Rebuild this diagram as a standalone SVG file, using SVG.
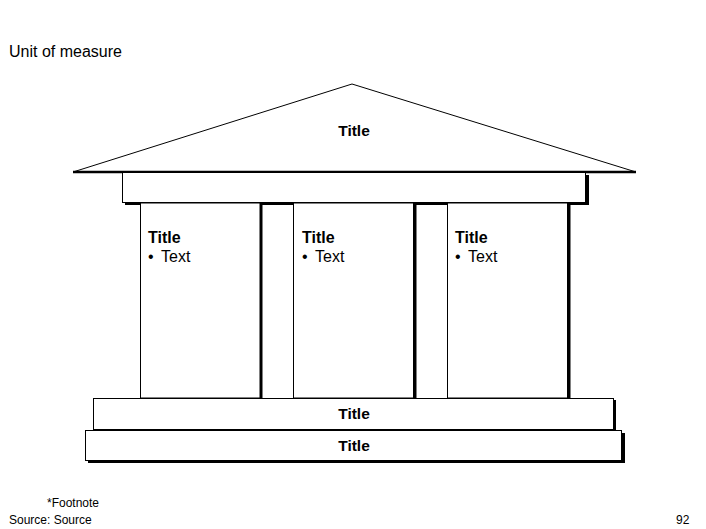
<svg xmlns="http://www.w3.org/2000/svg" width="706" height="529" viewBox="0 0 706 529">
<style>
.t{font-family:"Liberation Sans",Arial,sans-serif;fill:#000}
.b{font-weight:bold;font-size:15.5px;text-anchor:middle}
.ct{font-weight:bold;font-size:16px}
.tx{font-size:16px}
.box{fill:#fff;stroke:#000;stroke-width:1}
.sh{fill:#000}
</style>
<rect width="706" height="529" fill="#fff"/>
<text class="t" x="9" y="57" font-size="16">Unit of measure</text>
<g id="roof">
<polygon points="73,172 352,84 636,172" class="box"/>
<line x1="73" y1="172" x2="636" y2="172" stroke="#000" stroke-width="2.5"/>
<text class="t b" x="354" y="136">Title</text>
</g>
<g id="entablature">
<rect x="125" y="175" width="464" height="30" class="sh"/>
<rect x="122.5" y="172.5" width="463" height="30" class="box"/>
</g>
<g id="column1">
<rect x="140.5" y="203" width="120" height="195" class="box"/>
<line x1="261" y1="203" x2="261" y2="398" stroke="#000" stroke-width="3"/>
<text class="t ct" x="148" y="243">Title</text>
<text class="t tx" y="262"><tspan x="148">•</tspan><tspan x="161">Text</tspan></text>
</g>
<g id="column2">
<rect x="293.5" y="203" width="120" height="195" class="box"/>
<line x1="415" y1="203" x2="415" y2="398" stroke="#000" stroke-width="3"/>
<text class="t ct" x="302" y="243">Title</text>
<text class="t tx" y="262"><tspan x="302">•</tspan><tspan x="315">Text</tspan></text>
</g>
<g id="column3">
<rect x="447.5" y="203" width="120" height="195" class="box"/>
<line x1="569" y1="203" x2="569" y2="398" stroke="#000" stroke-width="3"/>
<text class="t ct" x="455" y="243">Title</text>
<text class="t tx" y="262"><tspan x="455">•</tspan><tspan x="468">Text</tspan></text>
</g>
<g id="step1">
<rect x="95" y="400" width="521" height="31" class="sh"/>
<rect x="93.5" y="398.5" width="520" height="31" class="box"/>
<text class="t b" x="354" y="419">Title</text>
</g>
<g id="step2">
<rect x="88" y="433" width="537" height="30" class="sh"/>
<rect x="85.5" y="430.5" width="536" height="30" class="box"/>
<text class="t b" x="354" y="451">Title</text>
</g>
<text class="t" x="47" y="507" font-size="12">*Footnote</text>
<text class="t" x="9" y="524" font-size="12">Source: Source</text>
<text class="t" x="676" y="524" font-size="12">92</text>
</svg>
